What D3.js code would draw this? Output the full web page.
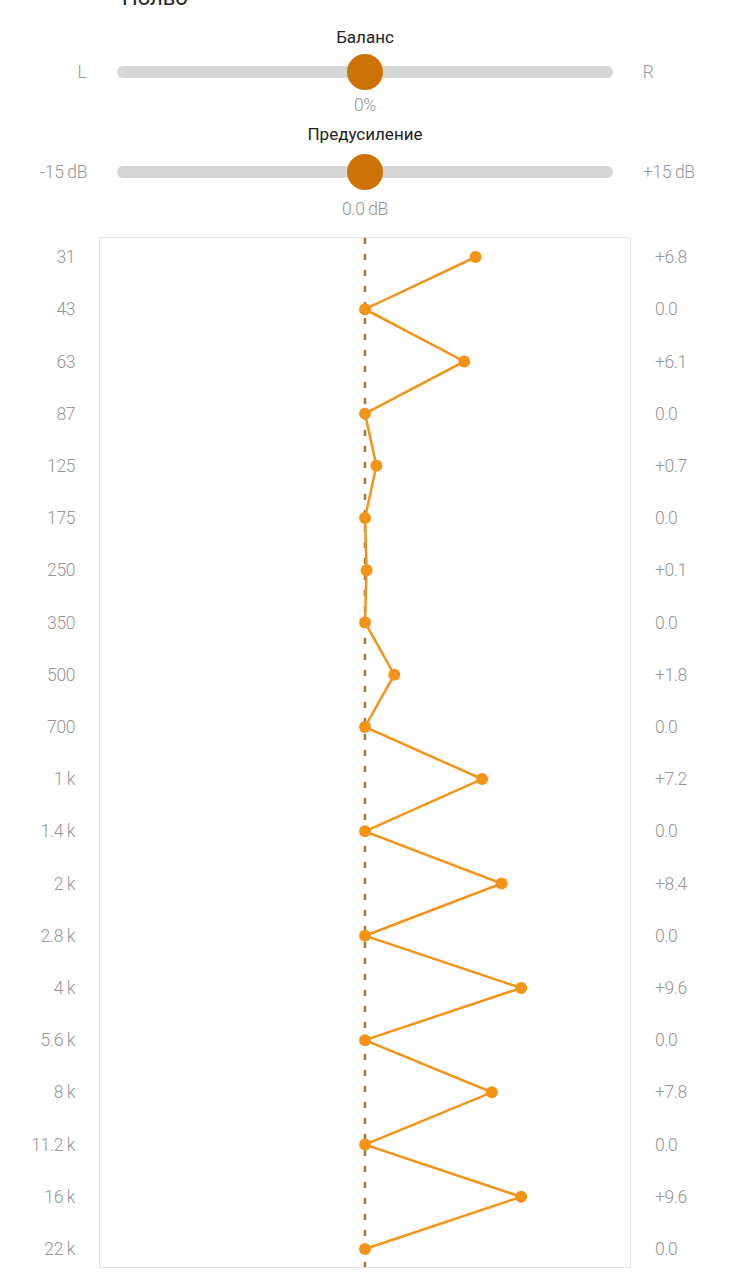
<!DOCTYPE html>
<html>
<head>
<meta charset="utf-8">
<script src="https://cdn.jsdelivr.net/npm/d3@7"></script>
<style>
  body { margin: 0; background: #fff; font-family: Roboto, "Noto Sans", sans-serif; }
  .lbl { font-weight: 300; letter-spacing: -0.4px; }
</style>
</head>
<body>
<div id="chart"></div>
<script>
// Data
const bands = ["31", "43", "63", "87", "125", "175", "250", "350", "500", "700",
    "1 k", "1.4 k", "2 k", "2.8 k", "4 k", "5.6 k", "8 k", "11.2 k", "16 k", "22 k"];
const gains = [6.8, 0.0, 6.1, 0.0, 0.7, 0.0, 0.1, 0.0, 1.8, 0.0,
    7.2, 0.0, 8.4, 0.0, 9.6, 0.0, 7.8, 0.0, 9.6, 0.0];
const sliders = [
    { title: "Баланс", left: "L", right: "R", value: 0, label: "0%" },
    { title: "Предусиление", left: "-15 dB", right: "+15 dB", value: 0, label: "0.0 dB" }
];
const presetName = "Нолво";

const W = 730, H = 1280;
const orange = "#f39419", thumbColor = "#cc7206", grey = "#959595";
const fs = 17.5;

const svg = d3.select("#chart")
    .append("svg")
    .attr("width", W)
    .attr("height", H);

// Scales
const x = d3.scaleLinear().domain([-15, 15]).range([121, 609]);
const sliderX = d3.scaleLinear().domain([-1, 1]).range([117, 613]);
const y = d3.scalePoint().domain(bands).range([257, 1249]);

// Cut-off preset title at the very top
svg.append("text")
    .attr("x", 122)
    .attr("y", 5)
    .attr("font-size", 22)
    .attr("fill", "#222")
    .text(presetName);

// Sliders
const sliderRows = [
    { cy: 72, titleY: 43, labelY: 111, leftX: 82, leftAnchor: "middle", rightX: 648, rightAnchor: "middle" },
    { cy: 172, titleY: 140, labelY: 215, leftX: 87, leftAnchor: "end", rightX: 643, rightAnchor: "start" }
];
sliders.forEach((s, i) => {
    const r = sliderRows[i];
    svg.append("text")
        .attr("x", 365).attr("y", r.titleY)
        .attr("text-anchor", "middle")
        .attr("font-size", 17)
        .attr("fill", "#222")
        .text(s.title);
    svg.append("rect")
        .attr("x", sliderX(-1)).attr("y", r.cy - 6)
        .attr("width", sliderX(1) - sliderX(-1)).attr("height", 12)
        .attr("rx", 6)
        .attr("fill", "#d6d6d6");
    svg.append("circle")
        .attr("cx", sliderX(s.value)).attr("cy", r.cy)
        .attr("r", 18)
        .attr("fill", thumbColor);
    svg.append("text")
        .attr("class", "lbl")
        .attr("x", r.leftX).attr("y", r.cy + 6)
        .attr("text-anchor", r.leftAnchor)
        .attr("font-size", fs)
        .attr("fill", grey)
        .text(s.left);
    svg.append("text")
        .attr("class", "lbl")
        .attr("x", r.rightX).attr("y", r.cy + 6)
        .attr("text-anchor", r.rightAnchor)
        .attr("font-size", fs)
        .attr("fill", grey)
        .text(s.right);
    svg.append("text")
        .attr("class", "lbl")
        .attr("x", 365).attr("y", r.labelY)
        .attr("text-anchor", "middle")
        .attr("font-size", fs)
        .attr("fill", grey)
        .text(s.label);
});

// Chart frame
svg.append("rect")
    .attr("x", 99.5).attr("y", 237.5)
    .attr("width", 531).attr("height", 1030)
    .attr("fill", "none")
    .attr("stroke", "#e2e2e2")
    .attr("stroke-width", 1);

// Zero line
svg.append("line")
    .attr("x1", x(0)).attr("x2", x(0))
    .attr("y1", 238).attr("y2", 1267)
    .attr("stroke", "#a07a30")
    .attr("stroke-width", 2.5)
    .attr("stroke-dasharray", "6,10");

// Band labels (left) and gain labels (right)
svg.selectAll(".band")
    .data(bands)
    .enter()
    .append("text")
    .attr("class", "lbl")
    .attr("x", 75)
    .attr("y", d => y(d))
    .attr("dy", "0.35em")
    .attr("text-anchor", "end")
    .attr("font-size", fs)
    .attr("fill", grey)
    .text(d => d);

svg.selectAll(".gain")
    .data(gains)
    .enter()
    .append("text")
    .attr("class", "lbl")
    .attr("x", 655)
    .attr("y", (d, i) => y(bands[i]))
    .attr("dy", "0.35em")
    .attr("font-size", fs)
    .attr("fill", grey)
    .text(d => (d > 0 ? "+" : "") + d.toFixed(1));

// Curve
svg.append("path")
    .datum(gains)
    .attr("fill", "none")
    .attr("stroke", orange)
    .attr("stroke-width", 2.5)
    .attr("d", d3.line()
        .x(d => x(d))
        .y((d, i) => y(bands[i]))
    );

svg.selectAll(".pt")
    .data(gains)
    .enter()
    .append("circle")
    .attr("cx", d => x(d))
    .attr("cy", (d, i) => y(bands[i]))
    .attr("r", 6)
    .attr("fill", orange);
</script>
</body>
</html>
